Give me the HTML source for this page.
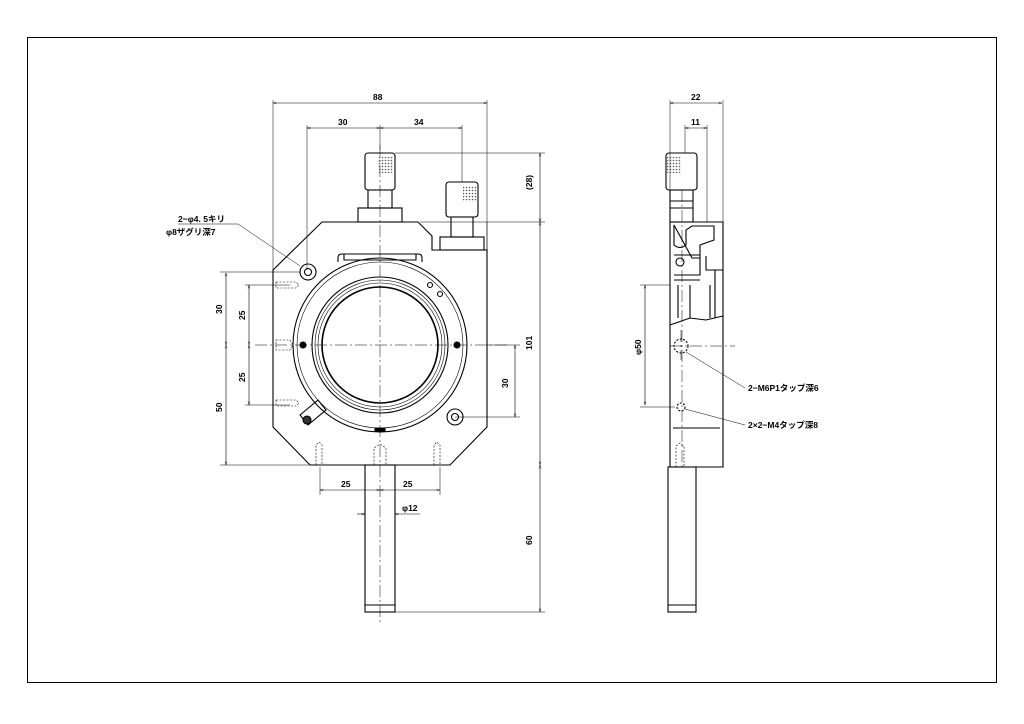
<!DOCTYPE html>
<html><head><meta charset="utf-8"><style>
html,body{margin:0;padding:0;background:#fff;width:1024px;height:724px;overflow:hidden}
svg{display:block}
text{font-family:"Liberation Sans","Noto Sans CJK JP",sans-serif;font-size:8.5px;font-weight:bold;fill:#000}
</style></head><body>
<svg width="1024" height="724" viewBox="0 0 1024 724">
<defs>
<marker id="a" viewBox="0 0 10 10" refX="10" refY="5" markerWidth="6" markerHeight="6" orient="auto-start-reverse"><path d="M0,2 L10,5 L0,8" fill="none" stroke="#000" stroke-width="1"/></marker>
<pattern id="dots" width="3" height="3" patternUnits="userSpaceOnUse"><circle cx="1.5" cy="1.5" r="0.8" fill="#555"/></pattern>
</defs>
<rect x="27.5" y="37.5" width="969" height="645" fill="none" stroke="#000" stroke-width="1"/>
<g fill="none" stroke="#000" stroke-width="0.5">
<path d="M273,100V270 M487,100V250 M307,125V270 M380,125V150 M462,125V182 M395,153H545 M420,222H545 M487,250V222 M395,612H545 M487,345H520 M455,417H520 M220,272H300 M220,465H310 M245,285H290 M245,405H290 M320,467V495 M440,467V495 M670,100V222 M723,100V222 M685,125V153 M707,125V222 M640,285H670 M640,407H675"/>
<path stroke-dasharray="12,3,2,3" d="M380,145V625 M255,345H510 M670,346H735 M681,330V360"/>
</g>
<g fill="none" stroke="#000" stroke-width="0.6" marker-start="url(#a)" marker-end="url(#a)">
<line x1="273" y1="103" x2="487" y2="103"/>
<line x1="307" y1="128" x2="380" y2="128"/>
<line x1="380" y1="128" x2="462" y2="128"/>
<line x1="540" y1="153" x2="540" y2="222"/>
<line x1="540" y1="222" x2="540" y2="465"/>
<line x1="540" y1="465" x2="540" y2="612"/>
<line x1="515" y1="345" x2="515" y2="417"/>
<line x1="226" y1="273" x2="226" y2="345"/>
<line x1="226" y1="345" x2="226" y2="465"/>
<line x1="249" y1="285" x2="249" y2="345"/>
<line x1="249" y1="345" x2="249" y2="405"/>
<line x1="320" y1="490" x2="380" y2="490"/>
<line x1="380" y1="490" x2="440" y2="490"/>
<line x1="670" y1="103" x2="722" y2="103"/>
<line x1="685" y1="128" x2="707" y2="128"/>
<line x1="645" y1="285" x2="645" y2="405"/>
</g>
<g fill="none" stroke="#000" stroke-width="0.6">
<line x1="357" y1="514" x2="365" y2="514" marker-end="url(#a)"/>
<line x1="420" y1="514" x2="395" y2="514" marker-end="url(#a)"/>
</g>
<g>
<text x="373" y="100">88</text>
<text x="338" y="125">30</text>
<text x="414" y="125">34</text>
<text x="691" y="100">22</text>
<text x="691" y="125">11</text>
<text x="341" y="487">25</text>
<text x="403" y="487">25</text>
<text x="402" y="511">φ12</text>
<text transform="translate(532,190) rotate(-90)">(28)</text>
<text transform="translate(532,350) rotate(-90)">101</text>
<text transform="translate(532,545) rotate(-90)">60</text>
<text transform="translate(508,388) rotate(-90)">30</text>
<text transform="translate(222,314) rotate(-90)">30</text>
<text transform="translate(222,412) rotate(-90)">50</text>
<text transform="translate(245,320) rotate(-90)">25</text>
<text transform="translate(245,382) rotate(-90)">25</text>
<text transform="translate(641,355) rotate(-90)">φ50</text>
<text x="178" y="222">2−φ4. 5キリ</text>
<text x="166" y="235">φ8ザグリ深7</text>
<text x="748" y="391">2−M6P1タップ深6</text>
<text x="748" y="428">2×2−M4タップ深8</text>
</g>
<g fill="none" stroke="#000" stroke-width="0.5">
<path d="M178,224H238L300,266"/>
<path d="M686,352L745,388 M685,409L745,425"/>
</g>
<g fill="none" stroke="#000" stroke-width="1.1">
<path d="M322,222H418L432,236V250H487V427L450,465H310L273,427V270Z"/>
<rect x="365" y="153" width="30" height="37" rx="3"/>
<rect x="368" y="190" width="24" height="18"/>
<rect x="358" y="208" width="44" height="14"/>
<rect x="446" y="182" width="32" height="35" rx="3"/>
<rect x="451" y="217" width="22" height="20"/>
<rect x="440" y="237" width="44" height="13"/>
<rect x="378" y="157" width="15" height="16" fill="url(#dots)" stroke="none"/>
<rect x="463" y="186" width="14" height="16" fill="url(#dots)" stroke="none"/>
<path d="M338,262V258Q338,254 342,254H418Q422,254 422,258V262"/>
<path d="M344,254V260H416V254"/>
<circle cx="308" cy="272" r="8"/><circle cx="308" cy="272" r="3.5"/>
<circle cx="455" cy="417" r="8"/><circle cx="455" cy="417" r="3.5"/>
<circle cx="380" cy="345" r="87"/>
<circle cx="380" cy="345" r="83" stroke-width="0.6"/>
<circle cx="380" cy="345" r="68"/>
<circle cx="380" cy="345" r="65" stroke-width="0.6"/>
<circle cx="380" cy="345" r="62" stroke-width="0.6"/>
<circle cx="380" cy="345" r="58" stroke-width="1.6"/>
<circle cx="303" cy="345" r="3" fill="#000"/>
<circle cx="457" cy="345" r="3" fill="#000"/>
<circle cx="430" cy="285" r="2.5"/><circle cx="440" cy="294" r="2.5"/>
<path d="M300,415L318,400L326,410L308,425Z"/>
<circle cx="307" cy="420" r="4" fill="#333"/>
<path d="M375,428h10v3h-10z" fill="#000"/>
<g stroke-dasharray="2,1.5" stroke-width="0.6">
<path d="M276,282h20l3,3l-3,3h-20z M276,340h14l3,5l-3,5h-14z M276,400h20l3,3l-3,3h-20z"/>
<path d="M316,465v-20l3,-3l3,3v20 M374,465v-17l6,-4l6,4v17 M434,465v-20l3,-3l3,3v20"/>
</g>
<rect x="365" y="465" width="30" height="147"/>
<path d="M365,605H395"/>
</g>
<g fill="none" stroke="#000" stroke-width="1.1">
<path d="M670,222H723V467H670Z"/>
<rect x="666" y="153" width="31" height="37" rx="3"/>
<rect x="667" y="157" width="14" height="16" fill="url(#dots)" stroke="none"/>
<rect x="670" y="190" width="23" height="32"/>
<path d="M670,201H693 M670,208H693"/>
<path d="M674,225V245Q680,250 686,245V230L692,226H714V240L700,245V258H692Z M674,255H700V275H674 M674,280H700 M678,285V318 M690,285V318 M710,285V318 M715,270V318 M670,325L690,318L706,320L723,316 M706,256V270H723"/>
<circle cx="680" cy="262" r="4"/>
<circle cx="681" cy="346" r="7" stroke-dasharray="2,1.5"/>
<circle cx="681" cy="407" r="4" stroke-dasharray="2,1.5"/>
<path d="M673,428H720"/>
<path d="M676,467V446l4,-3l4,3v21" stroke-dasharray="2,1.5" stroke-width="0.6"/>
<rect x="668" y="467" width="28" height="145"/>
<path d="M668,605H696"/>
<path d="M682,190V470" stroke-dasharray="12,3,2,3" stroke-width="0.5"/>
</g>
</svg>
</body></html>
